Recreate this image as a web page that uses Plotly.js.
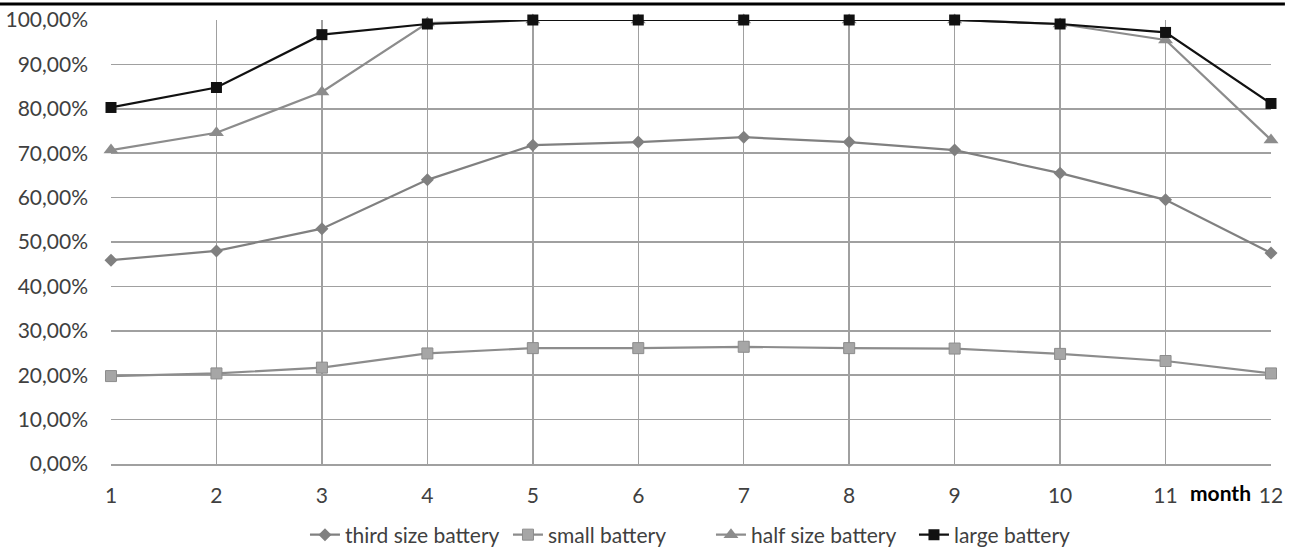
<!DOCTYPE html>
<html>
<head>
<meta charset="utf-8">
<script src="https://cdn.plot.ly/plotly-3.0.1.min.js"></script>
<style>
  html, body { margin: 0; padding: 0; background: #fff; }
  #chart { width: 1295px; height: 549px; }
</style>
</head>
<body>
<div id="chart"></div>
<script>
// Monthly share of demand covered, by battery size
const months = [1, 2, 3, 4, 5, 6, 7, 8, 9, 10, 11, 12];
const thirdSize = [0.459, 0.480, 0.530, 0.640, 0.718, 0.725, 0.736, 0.725, 0.707, 0.655, 0.595, 0.475];
const small     = [0.198, 0.204, 0.217, 0.249, 0.261, 0.261, 0.264, 0.261, 0.260, 0.248, 0.232, 0.204];
const halfSize  = [0.707, 0.746, 0.838, 0.993, 1.000, 1.000, 1.000, 1.000, 1.000, 0.991, 0.955, 0.730];
const large     = [0.803, 0.848, 0.967, 0.991, 1.000, 1.000, 1.000, 1.000, 1.000, 0.991, 0.972, 0.812];
const seriesNames = ['third size battery', 'small battery', 'half size battery', 'large battery'];

const FONT = 'Lato, "Open Sans", sans-serif';
const FS = 21;

const traces = [
  {
    x: months, y: thirdSize, name: seriesNames[0], mode: 'lines+markers', cliponaxis: false,
    line: { color: '#808080', width: 2.2 },
    marker: { symbol: 'diamond', size: 10, color: '#808080' }
  },
  {
    x: months, y: small, name: seriesNames[1], mode: 'lines+markers', cliponaxis: false,
    line: { color: '#8c8c8c', width: 2.2 },
    marker: { symbol: 'square', size: 11, color: '#a6a6a6', line: { color: '#8c8c8c', width: 1 } }
  },
  {
    x: months, y: halfSize, name: seriesNames[2], mode: 'lines+markers', cliponaxis: false,
    line: { color: '#8c8c8c', width: 2.2 },
    marker: { symbol: 'triangle-up', size: 13, color: '#8c8c8c' }
  },
  {
    x: months, y: large, name: seriesNames[3], mode: 'lines+markers', cliponaxis: false,
    line: { color: '#111111', width: 2.2 },
    marker: { symbol: 'square', size: 11, color: '#111111' }
  }
];

const layout = {
  width: 1295, height: 549,
  margin: { l: 111, r: 24, t: 20, b: 85, autoexpand: false },
  paper_bgcolor: '#ffffff', plot_bgcolor: '#ffffff',
  separators: ',.',
  font: { family: FONT, size: FS, color: '#404040' },
  showlegend: true,
  legend: {
    orientation: 'h', x: 0.2355, xref: 'container', xanchor: 'left',
    y: 0.0255, yref: 'container', yanchor: 'middle',
    font: { family: FONT, size: FS, color: '#404040' },
    itemwidth: 30, traceorder: 'normal',
    entrywidth: 158, entrywidthmode: 'pixels'
  },
  xaxis: {
    range: [1, 12], tickvals: months, ticktext: months.map(String),
    showgrid: true, gridcolor: '#a0a0a0', gridwidth: 1.5,
    zeroline: false, showline: true, linecolor: '#a0a0a0', linewidth: 1.5,
    ticks: '', ticklabelstandoff: 12,
    tickfont: { family: FONT, size: FS, color: '#404040' }
  },
  yaxis: {
    range: [0, 1], tick0: 0, dtick: 0.1, tickformat: '.2%',
    showgrid: true, gridcolor: '#a0a0a0', gridwidth: 1.5,
    zeroline: false, showline: false, ticks: '', ticklabelstandoff: 22,
    tickfont: { family: FONT, size: FS, color: '#404040' }
  },
  annotations: [
    {
      text: '<b>month</b>', xref: 'x', yref: 'paper', x: 11.52, y: -0.065,
      xanchor: 'center', yanchor: 'middle', showarrow: false,
      font: { family: FONT, size: FS, color: '#000000' }
    }
  ],
  shapes: [
    {
      type: 'line', xref: 'paper', yref: 'paper',
      x0: -0.0957, x1: 1.012, y0: 1.036, y1: 1.036,
      line: { color: '#000000', width: 3 }
    }
  ]
};

Plotly.newPlot('chart', traces, layout, { displayModeBar: false, staticPlot: true });
</script>
</body>
</html>
